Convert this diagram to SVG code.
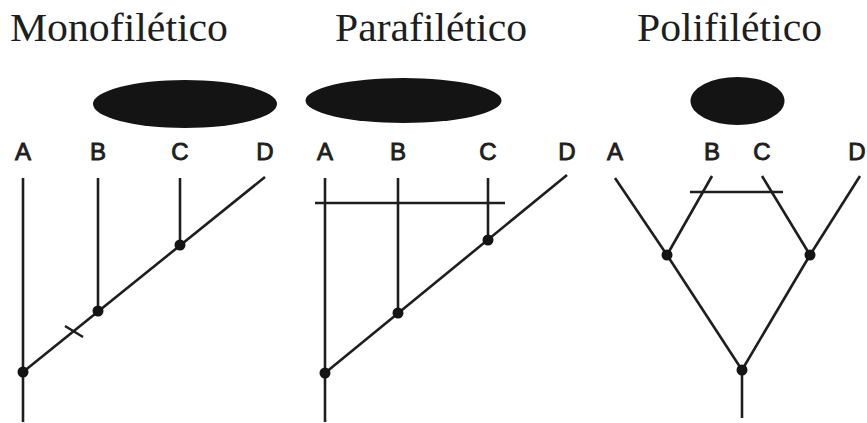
<svg xmlns="http://www.w3.org/2000/svg" width="867" height="423" viewBox="0 0 867 423">
<style>
.title{font-family:"Liberation Serif","Times New Roman",serif;font-size:40px;fill:#1e1e1e}
.lab{font-family:"Liberation Sans",Arial,sans-serif;font-size:24px;fill:#1e1e1e;text-anchor:middle;stroke:#1e1e1e;stroke-width:0.9}
.blob{fill:#141414}
.ln{stroke:#1e1e1e;stroke-width:2.6;fill:none;stroke-linecap:butt}
.dot{fill:#141414}
</style>
<rect width="867" height="423" fill="#ffffff"/>
<g id="titles">
<text class="title" x="10" y="41" textLength="218" lengthAdjust="spacingAndGlyphs">Monofilético</text>
<text class="title" x="335" y="41" textLength="192" lengthAdjust="spacingAndGlyphs">Parafilético</text>
<text class="title" x="637" y="41" textLength="185" lengthAdjust="spacingAndGlyphs">Polifilético</text>
</g>
<g id="group-mono"><ellipse class="blob" cx="185" cy="104" rx="92" ry="24"/></g>
<g id="group-para"><ellipse class="blob" cx="403.5" cy="100.5" rx="98" ry="22.5"/></g>
<g id="group-poli"><ellipse class="blob" cx="737.5" cy="101" rx="47" ry="24"/></g>
<g id="labels">
<text class="lab" x="23" y="160">A</text>
<text class="lab" x="98" y="160">B</text>
<text class="lab" x="180" y="160">C</text>
<text class="lab" x="265" y="160">D</text>
<text class="lab" x="325" y="160">A</text>
<text class="lab" x="398" y="160">B</text>
<text class="lab" x="488" y="160">C</text>
<text class="lab" x="567" y="160">D</text>
<text class="lab" x="615" y="160">A</text>
<text class="lab" x="712" y="160">B</text>
<text class="lab" x="762" y="160">C</text>
<text class="lab" x="857" y="160">D</text>
</g>
<g id="connectors">
<line class="ln" x1="23" y1="178" x2="23" y2="422"/>
<line class="ln" x1="98" y1="178" x2="98" y2="312"/>
<line class="ln" x1="180" y1="178" x2="180" y2="245"/>
<line class="ln" x1="23" y1="372" x2="265" y2="177"/>
<line class="ln" x1="65" y1="326" x2="83" y2="337"/>
<line class="ln" x1="325" y1="178" x2="325" y2="422"/>
<line class="ln" x1="398" y1="178" x2="398" y2="313"/>
<line class="ln" x1="488" y1="178" x2="488" y2="240"/>
<line class="ln" x1="315" y1="203" x2="505" y2="203"/>
<line class="ln" x1="325" y1="373" x2="567" y2="175"/>
<line class="ln" x1="615" y1="178" x2="667" y2="255"/>
<line class="ln" x1="712" y1="176" x2="667" y2="255"/>
<line class="ln" x1="762" y1="176" x2="810" y2="255"/>
<line class="ln" x1="860" y1="176" x2="810" y2="255"/>
<line class="ln" x1="667" y1="255" x2="742" y2="370"/>
<line class="ln" x1="810" y1="255" x2="742" y2="370"/>
<line class="ln" x1="742" y1="370" x2="742" y2="418"/>
<line class="ln" x1="690" y1="192" x2="783" y2="192"/>
</g>
<g id="nodes">
<circle class="dot" cx="23" cy="372" r="5.5"/>
<circle class="dot" cx="98" cy="311" r="5.5"/>
<circle class="dot" cx="180" cy="245" r="5.5"/>
<circle class="dot" cx="325" cy="373" r="5.5"/>
<circle class="dot" cx="398" cy="313" r="5.5"/>
<circle class="dot" cx="488" cy="240" r="5.5"/>
<circle class="dot" cx="667" cy="255" r="5.5"/>
<circle class="dot" cx="810" cy="255" r="5.5"/>
<circle class="dot" cx="742" cy="370" r="5.5"/>
</g>
</svg>
